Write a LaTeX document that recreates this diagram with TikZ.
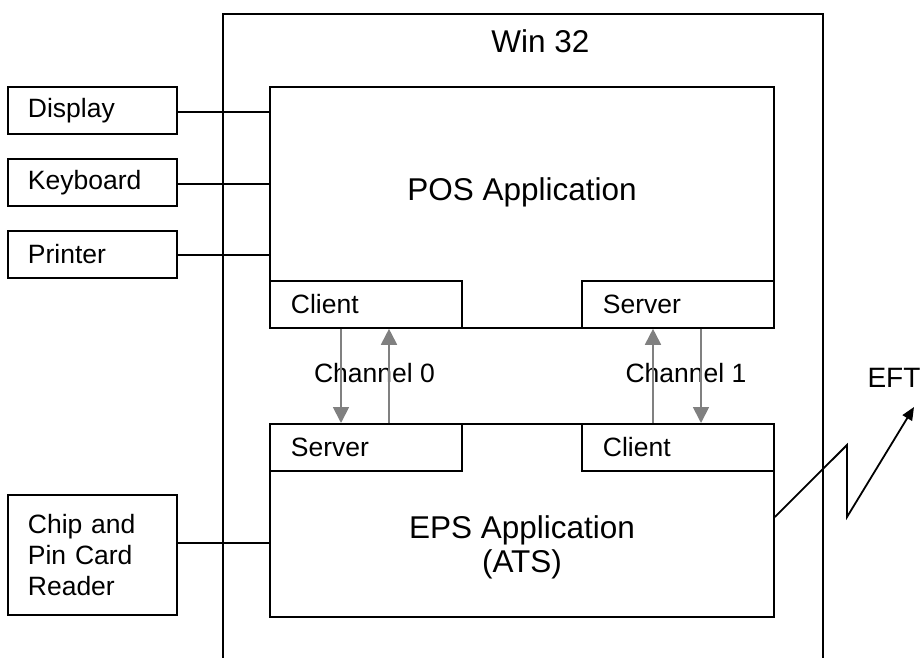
\documentclass[tikz,border=0pt]{standalone}
\usepackage{fontspec}
\setmainfont{Liberation Sans}
\usetikzlibrary{arrows.meta,calc}
\definecolor{chgray}{RGB}{128,128,128}
\begin{document}
\begin{tikzpicture}[x=1pt,y=-1pt,line width=1.8pt,
  bigtxt/.style={font=\fontsize{31.5}{34}\selectfont},
  smalltxt/.style={font=\fontsize{26.5}{31}\selectfont},
  box/.style={draw, anchor=north west, inner sep=0pt},
  device/.style={box, smalltxt, minimum width=169pt, minimum height=47pt,
    text width=129pt, inner xsep=20pt, align=left},
  port/.style={box, fill=white, smalltxt, minimum width=192pt, minimum height=47pt,
    text width=150pt, inner xsep=21pt, align=left},
  chan/.style={draw=chgray, line width=1.8pt, -{Triangle[length=16pt,width=16pt]}},
]
\useasboundingbox (0,0) rectangle (924,657);

% Win 32 environment (runs off the bottom edge)
\node[box, minimum width=600pt, minimum height=700pt] (win) at (222,13) {};
\node[bigtxt, anchor=base] (wint) at (540.5,52) {Win 32};

% applications
\node[box, minimum width=504pt, minimum height=241pt] (pos) at (269,86) {};
\node[bigtxt, anchor=base] (post) at (522,200) {POS Application};
\node[box, minimum width=504pt, minimum height=193pt] (eps) at (269,423) {};
\node[bigtxt, anchor=base] (epst) at (522,538) {EPS Application};
\node[bigtxt, anchor=base] (atst) at (522,572) {(ATS)};

% client / server ports
\node[port] (cli0) at (269,280) {Client};
\node[port] (srv1) at (581,280) {Server};
\node[port] (srv0) at (269,423) {Server};
\node[port] (cli1) at (581,423) {Client};

% peripheral devices
\node[device] (disp) at (7,86) {Display};
\node[device] (keyb) at (7,158) {Keyboard};
\node[device] (prnt) at (7,230) {Printer};
\node[device, minimum height=120pt] (chip) at (7,494) {Chip and\\Pin Card\\Reader};

\draw ([yshift=-1.5pt]disp.east) -- ([yshift=-1.5pt]disp.east -| pos.west);
\draw ([yshift=-1.5pt]keyb.east) -- ([yshift=-1.5pt]keyb.east -| pos.west);
\draw ([yshift=-0.5pt]prnt.east) -- ([yshift=-0.5pt]prnt.east -| pos.west);
\coordinate (chipout) at ($(chip.north east)!0.4!(chip.south east)$);
\draw (chipout) -- (chipout -| eps.west);

% channels
\node[smalltxt, anchor=base] (ch0) at (374.5,382) {Channel 0};
\node[smalltxt, anchor=base] (ch1) at (686,382) {Channel 1};
\draw[chan] ([xshift=72pt]cli0.south west) -- ([xshift=72pt]cli0.south west |- srv0.north);
\draw[chan] ([xshift=120pt]srv0.north west) -- ([xshift=120pt]srv0.north west |- cli0.south);
\draw[chan] ([xshift=72pt]cli1.north west) -- ([xshift=72pt]cli1.north west |- srv1.south);
\draw[chan] ([xshift=120pt]srv1.south west) -- ([xshift=120pt]srv1.south west |- cli1.north);

% EFT link
\node[font=\fontsize{28}{32}\selectfont, anchor=base] (eft) at (894,387) {EFT};
\coordinate (zz1) at (847,445);
\coordinate (zz2) at (847,517);
\coordinate (eftend) at (914,407);
\draw[-{Triangle[length=13pt,width=11pt]}] (eps.east |- 0,517) -- (zz1) -- (zz2) -- (eftend);
\end{tikzpicture}
\end{document}
